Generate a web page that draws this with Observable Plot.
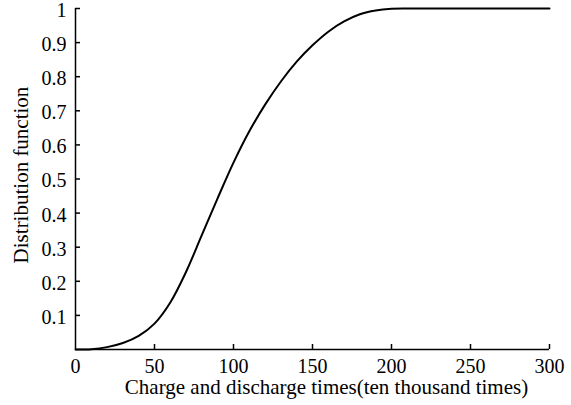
<!DOCTYPE html>
<html>
<head>
<meta charset="utf-8">
<script src="https://cdn.jsdelivr.net/npm/d3@7"></script>
<script src="https://cdn.jsdelivr.net/npm/@observablehq/plot@0.6"></script>
<style>
  html, body { margin: 0; padding: 0; background: #fff; }
  #chart svg { display: block; }
</style>
</head>
<body>
<div id="chart"></div>
<script>
// Charge/discharge times (ten thousand times) and distribution function values
const cycles = [0, 10, 20, 30, 40, 50, 60, 70, 80, 90, 100, 110, 120, 130, 140, 150, 160, 170, 180, 190, 200, 210, 250, 300];
const distribution = [0, 0.001, 0.007, 0.019, 0.04, 0.076, 0.138, 0.228, 0.336, 0.444, 0.548, 0.64, 0.718, 0.786, 0.844, 0.892, 0.932, 0.962, 0.983, 0.994, 0.999, 1.0, 1.0, 1.0];
const xTicks = [0, 50, 100, 150, 200, 250, 300];
const yTicks = [0.1, 0.2, 0.3, 0.4, 0.5, 0.6, 0.7, 0.8, 0.9, 1];
const xLabel = "Charge and discharge times(ten thousand times)";
const yLabel = "Distribution function";

const data = cycles.map((c, i) => ({x: c, y: distribution[i]}));
const fmt = d => String(d);

const chart = Plot.plot({
  width: 571,
  height: 405,
  marginLeft: 75,
  marginRight: 22,
  marginTop: 8,
  marginBottom: 56,
  style: {fontFamily: "'Liberation Serif', 'DejaVu Serif', serif", fontSize: "20px", color: "#000", background: "#fff", overflow: "visible"},
  x: {domain: [0, 300]},
  y: {domain: [0, 1]},
  marks: [
    Plot.axisX(xTicks.filter(d => d > 0), {tickSize: 5, dy: -5, tickFormat: () => "", stroke: "#000", strokeWidth: 1.5, label: null}),
    Plot.axisX(xTicks, {tickSize: 0, tickPadding: 9, tickFormat: fmt, fontSize: 20, fontFamily: "'Liberation Serif', serif", label: null}),
    Plot.axisY(yTicks, {tickSize: 5, dx: 5, tickFormat: () => "", stroke: "#000", strokeWidth: 1.5, label: null}),
    Plot.axisY(yTicks, {tickSize: 0, tickPadding: 9, dy: 2, tickFormat: fmt, fontSize: 20, fontFamily: "'Liberation Serif', serif", label: null}),
    Plot.text([xLabel], {frameAnchor: "bottom", lineAnchor: "middle", textAnchor: "middle", dy: 38, dx: 14, fontSize: 21, fontFamily: "'Liberation Serif', serif"}),
    Plot.text([yLabel], {frameAnchor: "left", lineAnchor: "middle", textAnchor: "middle", dx: -54, dy: -4, rotate: -90, fontSize: 21, fontFamily: "'Liberation Serif', serif"}),
    Plot.ruleX([0], {stroke: "#000", strokeWidth: 1.5}),
    Plot.ruleY([0], {stroke: "#000", strokeWidth: 1.5}),
    Plot.line(data, {x: "x", y: "y", curve: "catmull-rom", stroke: "#000", strokeWidth: 2})
  ]
});
document.getElementById("chart").appendChild(chart);
</script>
</body>
</html>
